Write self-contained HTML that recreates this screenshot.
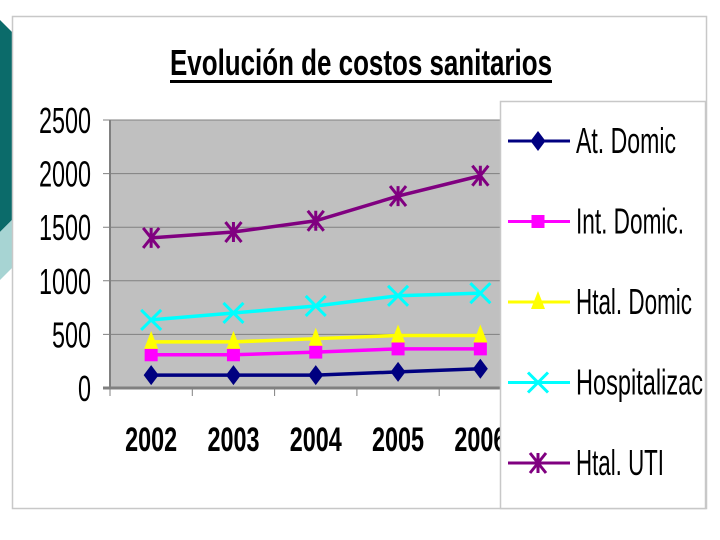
<!DOCTYPE html>
<html><head><meta charset="utf-8"><style>
html,body{margin:0;padding:0;background:#fff;}
svg{display:block;font-family:"Liberation Sans",Arial,sans-serif;}
</style></head><body>
<svg id="c" width="720" height="540" viewBox="0 0 720 540" xmlns="http://www.w3.org/2000/svg">
<polygon points="0,20 12,32 12,220 0,232" fill="#0b6b6a"/>
<polygon points="0,232 12,220 12,268 0,280" fill="#a7d4d3"/>
<rect x="12.5" y="16.5" width="694" height="492" fill="#fff" stroke="#c8c8c8" stroke-width="1.5"/>
<text x="170" y="75" font-size="36" font-weight="bold" textLength="382" lengthAdjust="spacingAndGlyphs">Evolución de costos sanitarios</text>
<rect x="170" y="80" width="382" height="3" fill="#000"/>
<g id="plot"></g>
<g id="legend"></g>
</svg>
<script>
const categories = ["2002","2003","2004","2005","2006"];
const seriesNames = ["At. Domic","Int. Domic.","Htal. Domic","Hospitalizac","Htal. UTI"];
const atDomic = [120,120,120,150,180];
const intDomic = [310,310,335,365,365];
const htalDomic = [430,430,460,490,490];
const hospitalizac = [635,700,765,860,885];
const htalUTI = [1400,1455,1560,1790,1980];
const yTicks = [0,500,1000,1500,2000,2500];

const NS="http://www.w3.org/2000/svg";
const L=110,B=388,T=120,BW=82.3,YMAX=2500;
const xs=i=>L+BW*(i+0.5);
const ys=v=>B-(B-T)*v/YMAX;
function mk(tag,attrs,parent){const e=document.createElementNS(NS,tag);for(const k in attrs)e.setAttribute(k,attrs[k]);parent.appendChild(e);return e;}
const plot=document.getElementById('plot');
const bg=mk('rect',{x:L,y:T,width:BW*5,height:B-T,fill:'#c0c0c0'},plot);


yTicks.forEach(v=>{
  const y=ys(v);
  const g=mk('line',{x1:103,x2:L+BW*5,y1:y,y2:y,stroke:'#808080','stroke-width':v===0?3:1},plot);
  
  
  const t=mk('text',{x:91,y:y+13,'font-size':36,'text-anchor':'end'},plot);
  t.textContent=String(v);
  t.setAttribute('textLength',String(v).length*13);
  t.setAttribute('lengthAdjust','spacingAndGlyphs');
  
  
});
const ax=mk('line',{x1:L,x2:L,y1:T,y2:B+1,stroke:'#808080','stroke-width':2},plot);


for(let i=0;i<=5;i++){const tk=mk('line',{x1:L+BW*i,x2:L+BW*i,y1:B,y2:B+8,stroke:'#808080','stroke-width':1},plot);

}
categories.forEach((c,i)=>{
  const t=mk('text',{x:xs(i),y:451,'font-size':34,'font-weight':'bold','text-anchor':'middle'},plot);
  t.textContent=c;
  t.setAttribute('textLength',52);
  t.setAttribute('lengthAdjust','spacingAndGlyphs');
  
  
});
const colors=['#000080','#ff00ff','#ffff00','#00ffff','#800080'];
const kinds=['diamond','square','triangle','x','star'];
const data=[atDomic,intDomic,htalDomic,hospitalizac,htalUTI];
function marker(kind,x,y,col,p,s){
  let e;
  if(kind==='diamond')e=mk('polygon',{points:`${x},${y-s} ${x+s*0.75},${y} ${x},${y+s} ${x-s*0.75},${y}`,fill:col},p);
  else if(kind==='square')e=mk('rect',{x:x-s*0.65,y:y-s*0.65,width:s*1.3,height:s*1.3,fill:col},p);
  else if(kind==='triangle')e=mk('polygon',{points:`${x},${y-s*1.1} ${x+s*0.7},${y+s*0.7} ${x-s*0.7},${y+s*0.7}`,fill:col},p);
  else if(kind==='x')e=mk('path',{d:`M${x-s},${y-s}L${x+s},${y+s}M${x+s},${y-s}L${x-s},${y+s}`,stroke:col,'stroke-width':3},p);
  else e=mk('path',{d:`M${x-s*0.8},${y-s}L${x+s*0.8},${y+s}M${x+s*0.8},${y-s}L${x-s*0.8},${y+s}M${x},${y-s}L${x},${y+s}`,stroke:col,'stroke-width':3},p);
  return e;
}
data.forEach((arr,si)=>{
  const g=mk('g',{},plot);
  
  
  const pl=mk('polyline',{points:arr.map((v,i)=>xs(i)+','+ys(v)).join(' '),fill:'none',stroke:colors[si],'stroke-width':3.5},g);
  
  
  arr.forEach((v,i)=>{const m=marker(kinds[si],xs(i),ys(v),colors[si],g,10);
    
    });
});
const lg=document.getElementById('legend');
const lb=mk('rect',{x:500.5,y:101.5,width:205,height:407,fill:'#fff',stroke:'#c8c8c8','stroke-width':1.5},lg);


seriesNames.forEach((n,i)=>{
  const y=141+i*80.5;
  const g=mk('g',{},lg);
  
  
  mk('line',{x1:508,x2:570,y1:y,y2:y,stroke:colors[i],'stroke-width':3},g);
  marker(kinds[i],538,y,colors[i],g,10);
  const t=mk('text',{x:576,y:y+12,'font-size':36},g);
  t.textContent=n;
  const w={"At. Domic":100,"Int. Domic.":108,"Htal. Domic":116,"Hospitalizac":127,"Htal. UTI":88}[n];
  t.setAttribute('textLength',w);
  t.setAttribute('lengthAdjust','spacingAndGlyphs');
});
</script>
</body></html>
